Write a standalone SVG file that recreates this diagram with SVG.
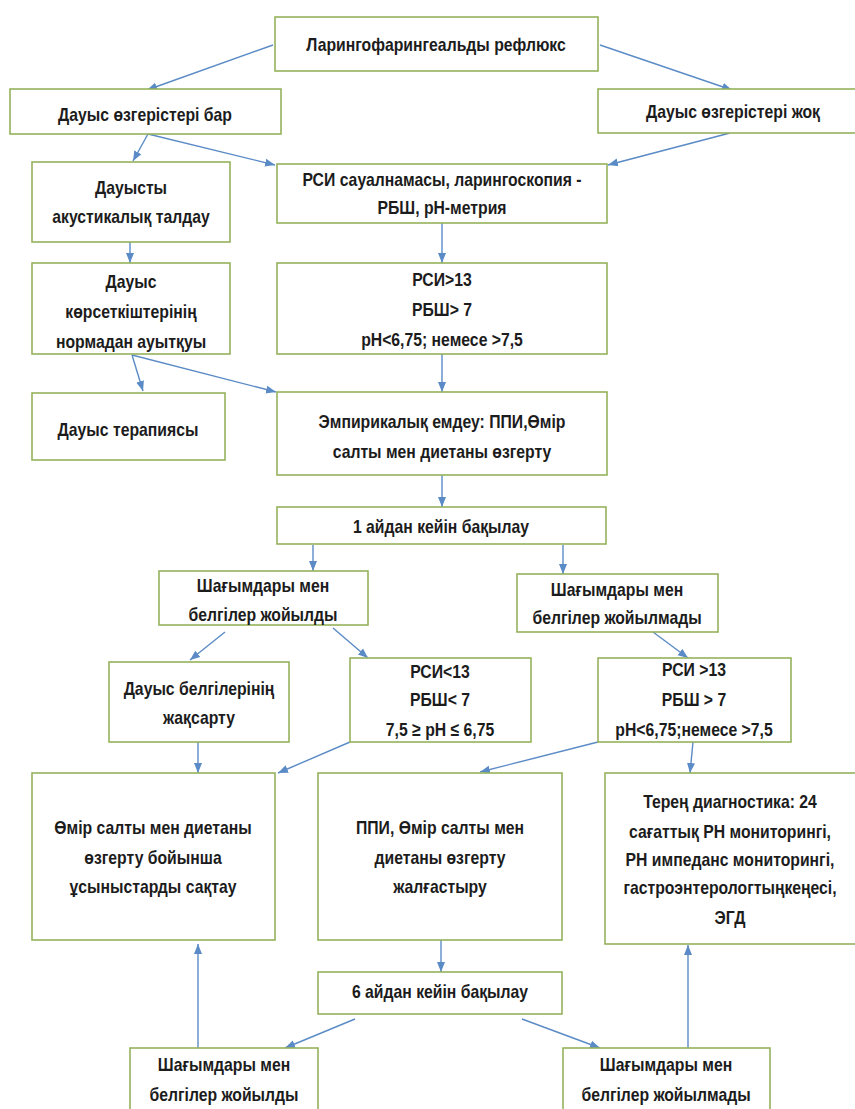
<svg xmlns="http://www.w3.org/2000/svg" width="855" height="1109" viewBox="0 0 855 1109">
<style>
.box{fill:#fff;stroke:#94b25a;stroke-width:1.6}
.t{font-family:"Liberation Sans",Arial,sans-serif;font-size:19px;font-weight:bold;fill:#1c1c1c;text-anchor:middle}
.c{stroke:#5b8bc6;stroke-width:1.4;fill:none;marker-end:url(#ah)}
</style>
<defs>
<marker id="ah" markerUnits="userSpaceOnUse" markerWidth="10" markerHeight="10" viewBox="0 0 10 10" refX="10" refY="5" orient="auto">
<path d="M0,1 L10,5 L0,9 Z" fill="#5b8bc6"/>
</marker>
</defs>
<rect width="855" height="1109" fill="#fff"/>
<g id="connectors">
<line class="c" x1="273" y1="45" x2="147" y2="90"/>
<line class="c" x1="600" y1="45" x2="732" y2="90"/>
<line class="c" x1="148" y1="134" x2="133" y2="161"/>
<line class="c" x1="148" y1="134" x2="275" y2="165"/>
<line class="c" x1="730" y1="133" x2="608" y2="165"/>
<line class="c" x1="130" y1="242" x2="130" y2="263"/>
<line class="c" x1="442" y1="223" x2="442" y2="263"/>
<line class="c" x1="132" y1="355" x2="143" y2="391"/>
<line class="c" x1="132" y1="355" x2="276" y2="392"/>
<line class="c" x1="442" y1="354" x2="442" y2="392"/>
<line class="c" x1="442" y1="475" x2="442" y2="507"/>
<line class="c" x1="313" y1="545" x2="313" y2="571"/>
<line class="c" x1="563" y1="545" x2="563" y2="574"/>
<line class="c" x1="225" y1="632" x2="190" y2="660"/>
<line class="c" x1="333" y1="628" x2="368" y2="658"/>
<line class="c" x1="653" y1="632" x2="688" y2="658"/>
<line class="c" x1="198" y1="742" x2="198" y2="773"/>
<line class="c" x1="350" y1="742" x2="278" y2="773"/>
<line class="c" x1="598" y1="742" x2="480" y2="772"/>
<line class="c" x1="693" y1="742" x2="690" y2="773"/>
<line class="c" x1="441" y1="940" x2="441" y2="972"/>
<line class="c" x1="355" y1="1019" x2="285" y2="1048"/>
<line class="c" x1="522" y1="1019" x2="600" y2="1048"/>
<line class="c" x1="198" y1="1048" x2="198" y2="944"/>
<line class="c" x1="688" y1="1048" x2="688" y2="945"/>
</g>
<g id="n1"><rect class="box" x="275" y="17" width="323" height="54"/><g transform="translate(436 0) scale(0.83 1)"><text class="t" x="0" y="51">Ларингофарингеальды рефлюкс</text></g></g>
<g id="n2"><rect class="box" x="10" y="89" width="271" height="45"/><g transform="translate(145 0) scale(0.83 1)"><text class="t" x="0" y="121">Дауыс өзгерістері бар</text></g></g>
<g id="n3"><rect class="box" x="598" y="89" width="270" height="44"/><g transform="translate(733 0) scale(0.83 1)"><text class="t" x="0" y="118">Дауыс өзгерістері жоқ</text></g></g>
<g id="n4"><rect class="box" x="32" y="162" width="198" height="80"/><g transform="translate(131 0) scale(0.83 1)"><text class="t" x="0" y="194">Дауысты</text><text class="t" x="0" y="223">акустикалық талдау</text></g></g>
<g id="n5"><rect class="box" x="277" y="164" width="330" height="59"/><g transform="translate(442 0) scale(0.83 1)"><text class="t" x="0" y="186">РСИ сауалнамасы, ларингоскопия -</text><text class="t" x="0" y="214">РБШ, pH-метрия</text></g></g>
<g id="n6"><rect class="box" x="32" y="263" width="198" height="91"/><g transform="translate(131 0) scale(0.83 1)"><text class="t" x="0" y="288">Дауыс</text><text class="t" x="0" y="318">көрсеткіштерінің</text><text class="t" x="0" y="348">нормадан ауытқуы</text></g></g>
<g id="n7"><rect class="box" x="277" y="263" width="330" height="91"/><g transform="translate(442 0) scale(0.83 1)"><text class="t" x="0" y="286">РСИ&gt;13</text><text class="t" x="0" y="316">РБШ&gt; 7</text><text class="t" x="0" y="346">pH&lt;6,75; немесе &gt;7,5</text></g></g>
<g id="n8"><rect class="box" x="32" y="393" width="193" height="67"/><g transform="translate(128 0) scale(0.83 1)"><text class="t" x="0" y="436">Дауыс терапиясы</text></g></g>
<g id="n9"><rect class="box" x="277" y="392" width="330" height="83"/><g transform="translate(442 0) scale(0.83 1)"><text class="t" x="0" y="428">Эмпирикалық емдеу: ППИ,Өмір</text><text class="t" x="0" y="458">салты мен диетаны өзгерту</text></g></g>
<g id="n10"><rect class="box" x="277" y="507" width="329" height="37"/><g transform="translate(441 0) scale(0.83 1)"><text class="t" x="0" y="533">1 айдан кейін бақылау</text></g></g>
<g id="n11"><rect class="box" x="159" y="571" width="209" height="54"/><g transform="translate(263 0) scale(0.83 1)"><text class="t" x="0" y="592">Шағымдары мен</text><text class="t" x="0" y="621">белгілер жойылды</text></g></g>
<g id="n12"><rect class="box" x="517" y="574" width="201" height="58"/><g transform="translate(617 0) scale(0.83 1)"><text class="t" x="0" y="596">Шағымдары мен</text><text class="t" x="0" y="624">белгілер жойылмады</text></g></g>
<g id="n13"><rect class="box" x="109" y="662" width="180" height="80"/><g transform="translate(199 0) scale(0.83 1)"><text class="t" x="0" y="695">Дауыс белгілерінің</text><text class="t" x="0" y="724">жақсарту</text></g></g>
<g id="n14"><rect class="box" x="350" y="658" width="181" height="84"/><g transform="translate(440 0) scale(0.83 1)"><text class="t" x="0" y="678">РСИ&lt;13</text><text class="t" x="0" y="706">РБШ&lt; 7</text><text class="t" x="0" y="736">7,5 ≥ pH ≤ 6,75</text></g></g>
<g id="n15"><rect class="box" x="598" y="658" width="193" height="84"/><g transform="translate(694 0) scale(0.83 1)"><text class="t" x="0" y="676">РСИ &gt;13</text><text class="t" x="0" y="706">РБШ &gt; 7</text><text class="t" x="0" y="736">pH&lt;6,75;немесе &gt;7,5</text></g></g>
<g id="n16"><rect class="box" x="32" y="773" width="243" height="167"/><g transform="translate(153 0) scale(0.83 1)"><text class="t" x="0" y="834">Өмір салты мен диетаны</text><text class="t" x="0" y="864">өзгерту бойынша</text><text class="t" x="0" y="893">ұсыныстарды сақтау</text></g></g>
<g id="n17"><rect class="box" x="318" y="773" width="244" height="167"/><g transform="translate(440 0) scale(0.83 1)"><text class="t" x="0" y="834">ППИ, Өмір салты мен</text><text class="t" x="0" y="864">диетаны өзгерту</text><text class="t" x="0" y="893">жалғастыру</text></g></g>
<g id="n18"><rect class="box" x="605" y="773" width="260" height="171"/><g transform="translate(730 0) scale(0.83 1)"><text class="t" x="0" y="808">Терең диагностика: 24</text><text class="t" x="0" y="838">сағаттық РН мониторингі,</text><text class="t" x="0" y="866">РН импеданс мониторингі,</text><text class="t" x="0" y="894">гастроэнтерологтыңкеңесі,</text><text class="t" x="0" y="924">ЭГД</text></g></g>
<g id="n19"><rect class="box" x="318" y="972" width="244" height="42"/><g transform="translate(440 0) scale(0.83 1)"><text class="t" x="0" y="998">6 айдан кейін бақылау</text></g></g>
<g id="n20"><rect class="box" x="130" y="1048" width="188" height="70"/><g transform="translate(224 0) scale(0.83 1)"><text class="t" x="0" y="1071">Шағымдары мен</text><text class="t" x="0" y="1101">белгілер жойылды</text></g></g>
<g id="n21"><rect class="box" x="563" y="1048" width="207" height="70"/><g transform="translate(666 0) scale(0.83 1)"><text class="t" x="0" y="1071">Шағымдары мен</text><text class="t" x="0" y="1101">белгілер жойылмады</text></g></g>
</svg>
